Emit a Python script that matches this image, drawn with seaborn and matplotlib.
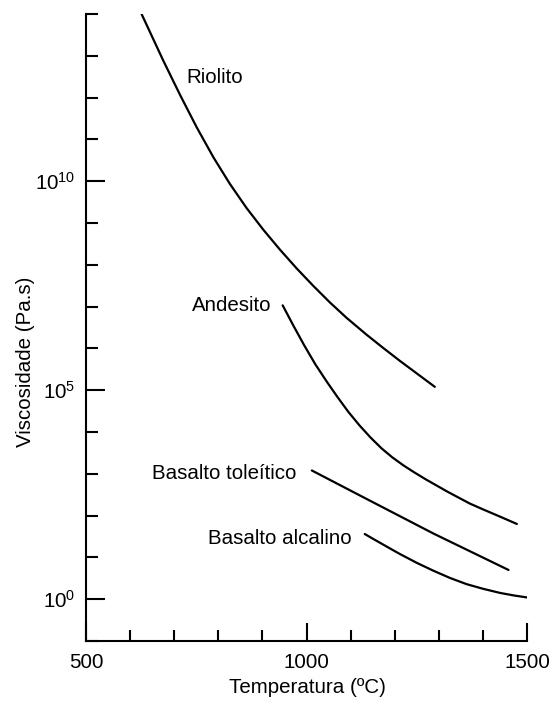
import numpy as np
import matplotlib
matplotlib.use("Agg")
import matplotlib.pyplot as plt
import matplotlib.ticker as mticker
import seaborn as sns

# --- Datos (temperatura en ºC, log10 de la viscosidad en Pa.s) ---
riolito_t = [626, 675, 713, 751, 789, 826, 864, 902, 940, 978, 1015, 1053, 1091, 1136, 1174, 1212, 1291]
riolito_log = [14.0, 12.89, 12.07, 11.29, 10.57, 9.94, 9.36, 8.84, 8.36, 7.91, 7.50, 7.10, 6.73, 6.33, 6.01, 5.70, 5.08]

andesito_t = [946, 970, 995, 1020, 1045, 1070, 1095, 1120, 1145, 1170, 1195, 1220, 1245,
              1270, 1295, 1320, 1345, 1370, 1400, 1440, 1477]
andesito_log = [7.03, 6.55, 6.07, 5.62, 5.22, 4.84, 4.48, 4.16, 3.87, 3.61, 3.39, 3.20, 3.03,
                2.87, 2.72, 2.57, 2.43, 2.29, 2.15, 1.97, 1.80]

toleitico_t = [1012, 1136, 1288, 1458]
toleitico_log = [3.08, 2.40, 1.57, 0.70]

alcalino_t = [1132, 1150, 1170, 1190, 1212, 1250, 1288, 1325, 1363, 1400, 1439, 1470, 1501]
alcalino_log = [1.56, 1.45, 1.33, 1.21, 1.08, 0.87, 0.68, 0.51, 0.36, 0.25, 0.15, 0.09, 0.04]

y_major = [1e0, 1e5, 1e10]
y_major_labels = [r"$10^{0}$", r"$10^{5}$", r"$10^{10}$"]
x_major = [500, 1000, 1500]

sns.set_theme(style="ticks", rc={
    "axes.edgecolor": "black", "xtick.color": "black", "ytick.color": "black",
    "text.color": "black", "axes.labelcolor": "black",
})
plt.rcParams["font.family"] = ["Liberation Sans", "DejaVu Sans"]
plt.rcParams["mathtext.fontset"] = "custom"
plt.rcParams["mathtext.rm"] = "Liberation Sans"
plt.rcParams["mathtext.it"] = "Liberation Sans:italic"
plt.rcParams["mathtext.bf"] = "Liberation Sans:bold"

fig = plt.figure(figsize=(5.49, 7.02), dpi=100)
ax = fig.add_axes([86 / 549, 61 / 702, 441 / 549, 627 / 702])

# Curvas de viscosidad
for t, lg in [(riolito_t, riolito_log), (andesito_t, andesito_log),
              (toleitico_t, toleitico_log), (alcalino_t, alcalino_log)]:
    sns.lineplot(x=t, y=10.0 ** np.array(lg), color="black", linewidth=1.6, ax=ax)

ax.set_yscale("log")
ax.set_xlim(500, 1500)
ax.set_ylim(1e-1, 1e14)

# Ticks: mayores con etiqueta, menores en cada década / cada 100 ºC
ax.yaxis.set_major_locator(mticker.FixedLocator(y_major))
ax.yaxis.set_major_formatter(mticker.FixedFormatter(y_major_labels))
ax.yaxis.set_minor_locator(mticker.FixedLocator([10.0 ** k for k in range(-1, 15)]))
ax.yaxis.set_minor_formatter(mticker.NullFormatter())
ax.xaxis.set_major_locator(mticker.FixedLocator(x_major))
ax.xaxis.set_minor_locator(mticker.MultipleLocator(100))

ax.tick_params(which="both", direction="in", width=1.5, labelsize=14.8)
ax.tick_params(axis="y", which="major", length=13.7, pad=7.9)
ax.tick_params(axis="y", which="minor", length=8.6)
ax.tick_params(axis="x", which="major", length=13, pad=8.6)
ax.tick_params(axis="x", which="minor", length=8)

for s in ["left", "bottom"]:
    ax.spines[s].set_linewidth(1.5)
sns.despine(ax=ax)

ax.set_xlabel("Temperatura (ºC)", fontsize=14.8)
ax.set_ylabel("Viscosidade (Pa.s)", fontsize=14.8)
ax.xaxis.set_label_coords(0.503, -0.059)
ax.yaxis.set_label_coords(-0.115, 0.446)

# Etiquetas de las curvas
ax.text(727, 10 ** 12.36, "Riolito", fontsize=14.8, ha="left", va="baseline")
ax.text(740, 10 ** 6.89, "Andesito", fontsize=14.8, ha="left", va="baseline")
ax.text(649, 10 ** 2.88, "Basalto toleítico", fontsize=14.8, ha="left", va="baseline")
ax.text(777, 10 ** 1.32, "Basalto alcalino", fontsize=14.8, ha="left", va="baseline")

fig.savefig("out.png", dpi=100, facecolor="white")
